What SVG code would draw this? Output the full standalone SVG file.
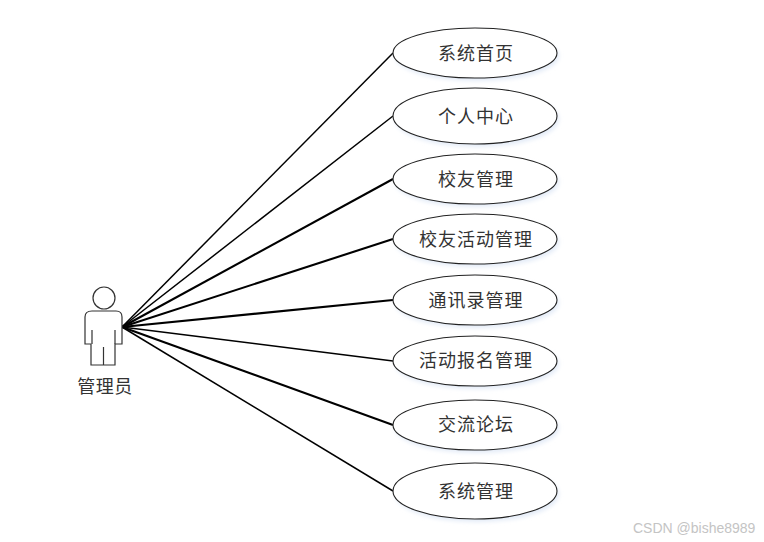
<svg xmlns="http://www.w3.org/2000/svg" width="764" height="542" viewBox="0 0 764 542">
<defs>
<filter id="s" x="-10%" y="-10%" width="125%" height="130%"><feGaussianBlur stdDeviation="2"/></filter>
</defs>
<style>
.u ellipse.b{fill:#fff;stroke:#222;stroke-width:1.1}
.u ellipse.sh{fill:#e3ebf7;filter:url(#s)}
.t{font-family:"Noto Sans CJK SC","Noto Sans CJK JP",sans-serif;font-size:18px;fill:#333;text-anchor:middle;letter-spacing:1px}
.c line{stroke:#000;stroke-width:1.5}
.c line.h{stroke-width:2.1}
.a path,.a circle{fill:#fff;stroke:#333;stroke-width:1.2}
</style>
<rect width="764" height="542" fill="#fff"/>
<g id="connectors" class="c">
<line x1="122" y1="327" x2="393" y2="53"/>
<line x1="122" y1="327" x2="393" y2="116"/>
<line class="h" x1="122" y1="327" x2="393" y2="179"/>
<line class="h" x1="122" y1="327" x2="393" y2="239"/>
<line class="h" x1="122" y1="327" x2="393" y2="300"/>
<line x1="122" y1="327" x2="393" y2="361"/>
<line class="h" x1="122" y1="327" x2="393" y2="425"/>
<line x1="122" y1="327" x2="393" y2="491"/>
</g>
<g id="actor" class="a">
<circle cx="104" cy="298" r="11"/>
<path d="M92 311H116Q122 311 122 317V344H115V365H91V344H85V317Q85 311 92 311Z"/>
<path d="M92 330V344M115 330V344M103.500 347V365" fill="none"/>
<text x="105" y="393" class="t" style="letter-spacing:0.500px">管理员</text>
</g>
<g class="u">
<g id="n1"><ellipse class="sh" cx="477" cy="56" rx="82" ry="25"/><ellipse class="b" cx="475" cy="53" rx="82" ry="25"/><text x="476" y="60" class="t">系统首页</text></g>
<g id="n2"><ellipse class="sh" cx="477" cy="119" rx="82" ry="28"/><ellipse class="b" cx="475" cy="116" rx="82" ry="28"/><text x="476" y="123" class="t">个人中心</text></g>
<g id="n3"><ellipse class="sh" cx="477" cy="182" rx="82" ry="25"/><ellipse class="b" cx="475" cy="179" rx="82" ry="25"/><text x="476" y="186" class="t">校友管理</text></g>
<g id="n4"><ellipse class="sh" cx="477" cy="242" rx="82" ry="25"/><ellipse class="b" cx="475" cy="239" rx="82" ry="25"/><text x="476" y="246" class="t">校友活动管理</text></g>
<g id="n5"><ellipse class="sh" cx="477" cy="303" rx="82" ry="25"/><ellipse class="b" cx="475" cy="300" rx="82" ry="25"/><text x="476" y="307" class="t">通讯录管理</text></g>
<g id="n6"><ellipse class="sh" cx="477" cy="364" rx="82" ry="25"/><ellipse class="b" cx="475" cy="361" rx="82" ry="25"/><text x="476" y="367" class="t">活动报名管理</text></g>
<g id="n7"><ellipse class="sh" cx="477" cy="428" rx="82" ry="25"/><ellipse class="b" cx="475" cy="425" rx="82" ry="25"/><text x="476" y="431" class="t">交流论坛</text></g>
<g id="n8"><ellipse class="sh" cx="477" cy="494" rx="82" ry="28"/><ellipse class="b" cx="475" cy="491" rx="82" ry="28"/><text x="476" y="498" class="t">系统管理</text></g>
</g>
<text x="633" y="533" style="font-family:'Liberation Sans',sans-serif;font-size:14px;fill:#c4c4c4">CSDN @bishe8989</text>
</svg>
